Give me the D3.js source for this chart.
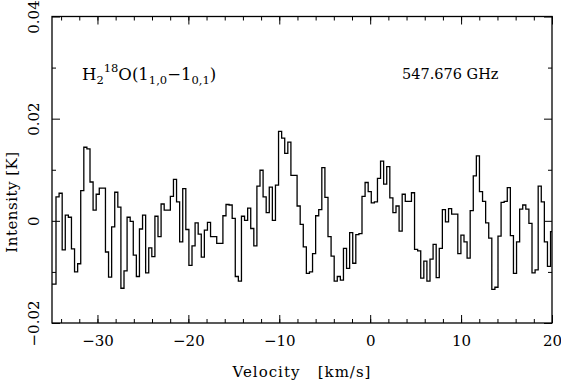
<!DOCTYPE html>
<html><head><meta charset="utf-8">
<script src="https://cdn.jsdelivr.net/npm/d3@7"></script>
<style>
html,body{margin:0;padding:0;background:#fff;}
svg{display:block;}
text{font-family:"DejaVu Serif","Liberation Serif",serif;fill:#000;}
</style></head><body>
<script>
// ---- data ----
const vFirstEdge = -35.24;   // km/s, left edge of first channel
const channelWidth = 0.34;   // km/s
const intensity = [
 -0.0124,-0.0124, 0.0047, 0.0054,-0.0057, 0.0011, 0.0007,-0.0055,-0.0100,-0.0084,
  0.0059, 0.0144, 0.0141, 0.0076, 0.0021, 0.0052, 0.0064, 0.0064,-0.0061,-0.0110,
 -0.0012, 0.0056, 0.0027,-0.0132,-0.0098, 0.0007,-0.0001,-0.0067,-0.0109,-0.0016,
  0.0011,-0.0102,-0.0053,-0.0070, 0.0009,-0.0031, 0.0033, 0.0021, 0.0021, 0.0048,
  0.0081, 0.0037,-0.0041, 0.0063,-0.0017,-0.0087,-0.0049,-0.0004,-0.0026,-0.0071,
 -0.0018,-0.0003,-0.0031,-0.0031,-0.0044,-0.0044, 0.0010, 0.0032, 0.0031, 0.0005,
 -0.0109,-0.0118, 0.0009, 0.0001, 0.0025,-0.0015,-0.0049, 0.0068, 0.0099, 0.0047,
  0.0016, 0.0066, 0.0001, 0.0070, 0.0175, 0.0162, 0.0132, 0.0154, 0.0089, 0.0089,
  0.0029,-0.0007,-0.0051,-0.0103,-0.0100,-0.0064, 0.0010, 0.0022, 0.0104, 0.0046,
 -0.0031,-0.0069,-0.0118,-0.0109,-0.0116,-0.0054,-0.0093,-0.0023,-0.0083,-0.0027,
 -0.0025, 0.0048, 0.0075, 0.0057, 0.0035, 0.0037, 0.0083, 0.0117, 0.0072, 0.0106,
  0.0045, 0.0016, 0.0029,-0.0020, 0.0052, 0.0038, 0.0038, 0.0055,-0.0056,-0.0059,
 -0.0112,-0.0079,-0.0118,-0.0075,-0.0046,-0.0111,-0.0054, 0.0022,-0.0002, 0.0024,
  0.0013, 0.0013,-0.0064,-0.0028,-0.0041,-0.0073, 0.0020, 0.0088, 0.0127, 0.0057,
  0.0038,-0.0004,-0.0034,-0.0134,-0.0130,-0.0030, 0.0036, 0.0038, 0.0065,-0.0029,
 -0.0103,-0.0041, 0.0023, 0.0031, 0.0023,-0.0005,-0.0102,-0.0096, 0.0068, 0.0037,
 -0.0041,-0.0089,-0.0021
];
const xDomain = [-35, 20];
const yDomain = [-0.02, 0.04];
const xMajorTicks = [-30, -20, -10, 0, 10, 20];
const xMinorTicks = d3.range(-34, 20.1, 2);
const yMajorTicks = [-0.02, 0, 0.02, 0.04];
const yMinorTicks = [-0.01, 0.01, 0.03];
const xLabel = "Velocity   [km/s]";
const yLabel = "Intensity [K]";
const lineFreq = "547.676 GHz";

// ---- layout ----
const W = 561, H = 383;
const L = 52, R = 552, T = 16.5, B = 323;
const x = d3.scaleLinear(xDomain, [L, R]);
const y = d3.scaleLinear(yDomain, [B, T]);

const svg = d3.select("body").append("svg").attr("width", W).attr("height", H);
svg.append("defs").append("clipPath").attr("id","clip")
  .append("rect").attr("x",L).attr("y",T).attr("width",R-L).attr("height",B-T);

// spectrum (step histogram)
const pts = intensity.map((v,i)=>[vFirstEdge + i*channelWidth, v]);
pts.push([vFirstEdge + intensity.length*channelWidth, intensity[intensity.length-1]]);
svg.append("path")
  .attr("clip-path","url(#clip)")
  .attr("d", d3.line().x(d=>x(d[0])).y(d=>y(d[1])).curve(d3.curveStepAfter)(pts))
  .attr("fill","none").attr("stroke","#000").attr("stroke-width",1.3);

// axes
const fmtY = d => d === 0 ? "0" : d3.format(".2f")(d).replace("-", "\u2212");
function ax(gen, tr){ const g = svg.append("g").attr("transform",tr).call(gen); g.select(".domain").remove(); g.selectAll("line").attr("stroke","#000").attr("stroke-width",1); return g; }

const gb = ax(d3.axisBottom(x).tickValues(xMajorTicks).tickSize(-8).tickPadding(12).tickFormat(d3.format("d")), `translate(0,${B})`);
gb.selectAll("text").attr("font-family","DejaVu Sans").attr("font-size",15);
ax(d3.axisBottom(x).tickValues(xMinorTicks).tickSize(-4).tickFormat(""), `translate(0,${B})`);
ax(d3.axisTop(x).tickValues(xMajorTicks).tickSize(-8).tickFormat(""), `translate(0,${T})`);
ax(d3.axisTop(x).tickValues(xMinorTicks).tickSize(-4).tickFormat(""), `translate(0,${T})`);

const gl = ax(d3.axisLeft(y).tickValues(yMajorTicks).tickSize(-8).tickFormat(fmtY), `translate(${L},0)`);
gl.selectAll("text").attr("font-family","DejaVu Sans").attr("font-size",15)
  .attr("x",0).attr("dy",0).attr("text-anchor","middle")
  .attr("transform","translate(-13,0) rotate(-90)");
ax(d3.axisLeft(y).tickValues(yMinorTicks).tickSize(-4).tickFormat(""), `translate(${L},0)`);
ax(d3.axisRight(y).tickValues(yMajorTicks).tickSize(-8).tickFormat(""), `translate(${R},0)`);
ax(d3.axisRight(y).tickValues(yMinorTicks).tickSize(-4).tickFormat(""), `translate(${R},0)`);

// frame
svg.append("rect").attr("x",L).attr("y",T).attr("width",R-L).attr("height",B-T)
  .attr("fill","none").attr("stroke","#000").attr("stroke-width",1.3);

// labels
svg.append("text").attr("x",302).attr("y",377).attr("text-anchor","middle")
  .attr("font-size",15).attr("letter-spacing",1).style("white-space","pre").text(xLabel);
svg.append("text").attr("transform","translate(17,202) rotate(-90)").attr("text-anchor","middle")
  .attr("font-size",15).attr("letter-spacing",0.5).text(yLabel);

// species label
const t = svg.append("text").attr("x",82).attr("y",80).attr("font-size",16.5);
t.append("tspan").text("H");
t.append("tspan").attr("dy",4).attr("font-size",11.5).text("2");
t.append("tspan").attr("dy",-12).attr("font-size",11.5).text("18");
t.append("tspan").attr("dy",8).text("O(1");
t.append("tspan").attr("dy",4).attr("font-size",11.5).text("1,0");
t.append("tspan").attr("dy",-4).text("\u22121");
t.append("tspan").attr("dy",4).attr("font-size",11.5).text("0,1");
t.append("tspan").attr("dy",-4).text(")");

svg.append("text").attr("x",402).attr("y",79).attr("font-size",14.5).text(lineFreq);
</script>
</body></html>
